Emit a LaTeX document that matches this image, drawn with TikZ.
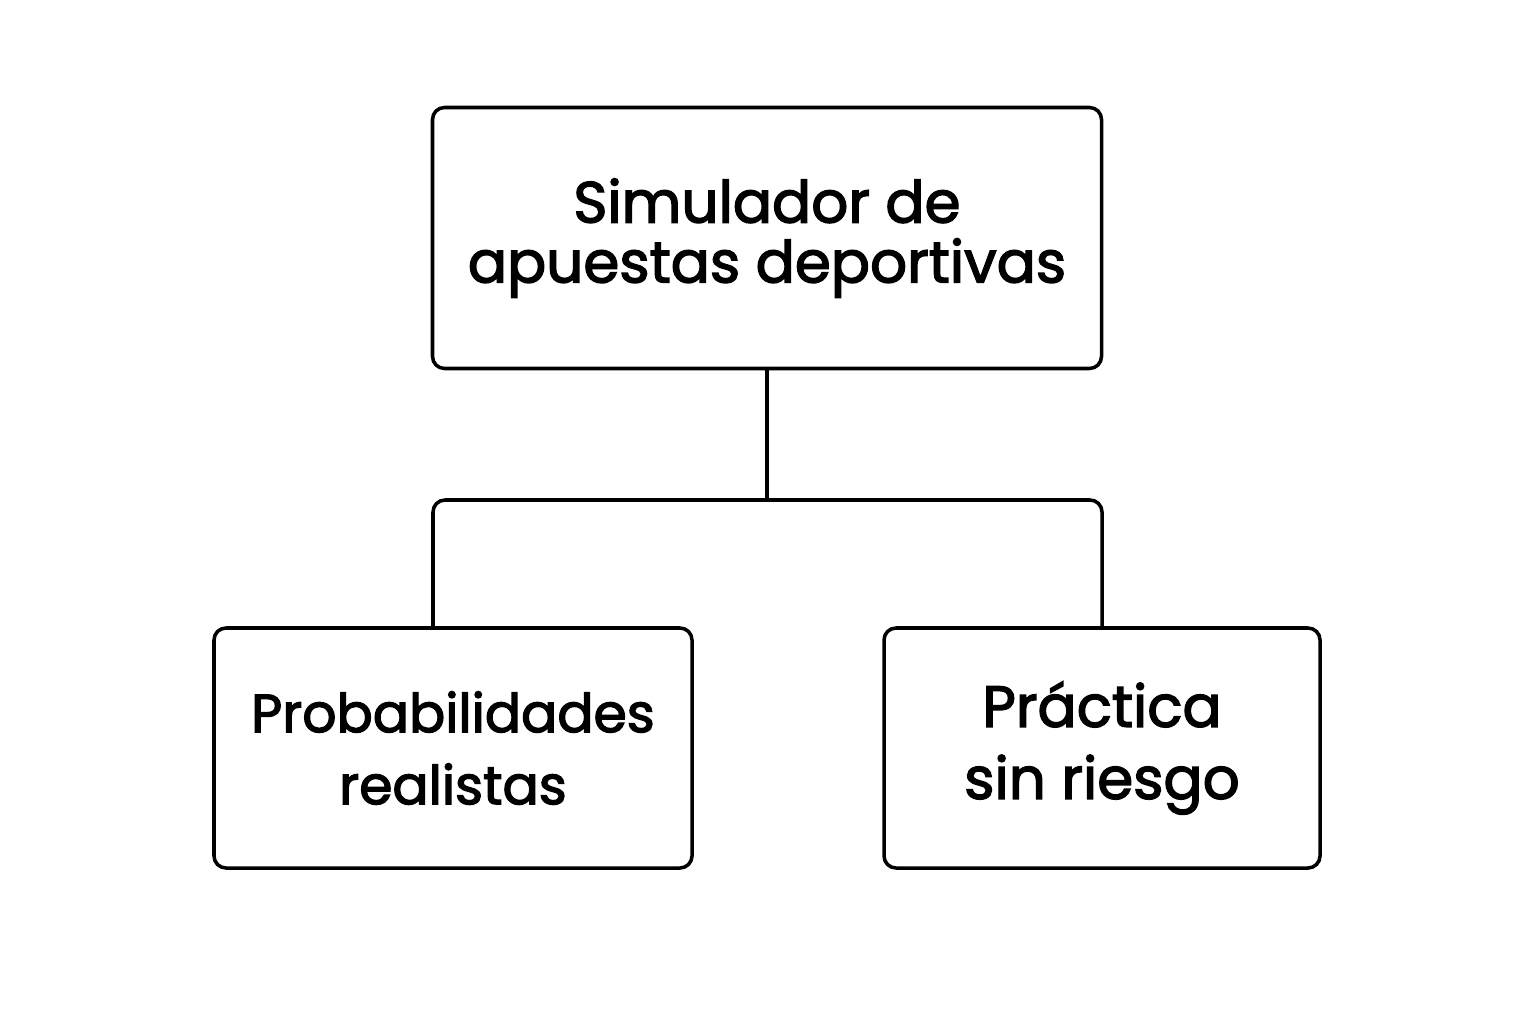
\documentclass[tikz,border=0pt]{standalone}
\usepackage{fontspec}
\setmainfont{Poppins}[FakeBold=2.4]
\usetikzlibrary{positioning}

\begin{document}
\begin{tikzpicture}[
                     boxnode/.style={rectangle, draw, line width=2pt, rounded corners=0.24cm, align=center, inner sep=0pt},
                     topnode/.style={boxnode, minimum width=13.38cm, minimum height=5.22cm, font=\fontsize{33}{44}\selectfont},
                     leafnode/.style={boxnode, minimum height=4.8cm, font=\fontsize{30.5}{41}\selectfont},
                 ]
                 \useasboundingbox (0,0) rectangle (30.72,20.48);
                 %Nodes
                 \node[topnode]                          (sim)   at (15.34,15.72) {\raisebox{-0.15cm}{\shortstack{Simulador de\\[0.2cm]apuestas deportivas}}};
                 \node[leafnode, minimum width=9.56cm]   (prob)  at (9.06,5.52)   {Probabilidades\\realistas};
                 \node[leafnode, minimum width=8.72cm, font=\fontsize{33}{41}\selectfont]   (prac)  at (22.04,5.52)  {Práctica\\sin riesgo};
                 \coordinate (mid)  at (15.34,10.48);
                 \coordinate (midl) at (8.66,10.48);

                 %Lines
                 \draw[line width=2pt] (sim.south) -- (mid);
                 \draw[line width=2pt, rounded corners=0.24cm] (prob.north -| midl) -- (midl) -- (prac.north |- midl) -- (prac.north);
             \end{tikzpicture}
\end{document}
